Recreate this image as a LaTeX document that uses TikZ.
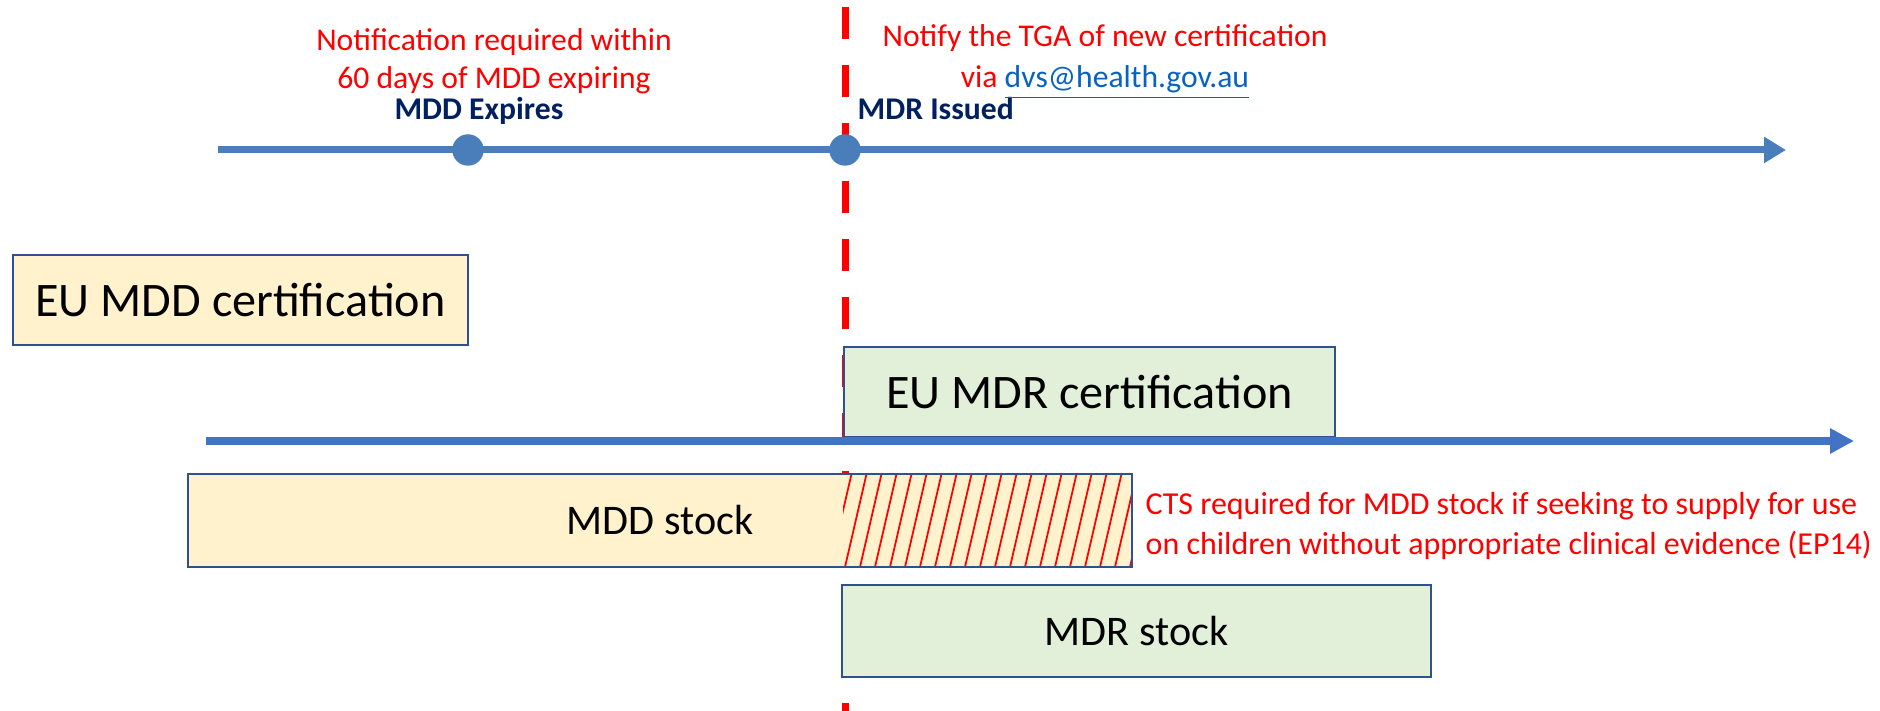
\documentclass[tikz,border=0pt]{standalone}
\usepackage{fontspec}
\setmainfont{Carlito}
\usepackage{tikz}
\usetikzlibrary{arrows.meta}
\usetikzlibrary{calc}

\definecolor{axisblue}{RGB}{74,126,187}
\definecolor{axisbluetwo}{RGB}{68,114,196}
\definecolor{boxedge}{RGB}{47,82,143}
\definecolor{mddfill}{RGB}{255,242,204}
\definecolor{mdrfill}{RGB}{226,240,217}
\definecolor{navy}{RGB}{0,32,96}
\definecolor{linkblue}{RGB}{5,99,193}

\begin{document}
\begin{tikzpicture}[
  certbox/.style={shape=rectangle,draw=boxedge,line width=0.75pt,inner sep=0pt,outer sep=0pt,font=\fontsize{13.7}{16}\selectfont},
  stockbox/.style={shape=rectangle,draw=boxedge,line width=0.75pt,inner sep=0pt,outer sep=0pt,font=\fontsize{12}{14}\selectfont},
  note/.style={text=red,inner sep=0pt,font=\fontsize{9}{10.8}\selectfont},
  event/.style={text=navy,inner sep=0pt,font=\fontsize{9}{10.8}\selectfont\bfseries},
  timeline/.style={line width=2pt,-{Triangle[length=2.2mm,width=2.5mm]}}
]
\useasboundingbox (0,0) rectangle (18.8,7.11);
\coordinate (cuttop) at (8.45,7.04);
\coordinate (cutbot) at (8.45,0);
\draw[red,line width=2pt,dash pattern=on 0.32cm off 0.26cm] (cuttop) -- (cutbot);
\coordinate (t0) at (2.18,5.61);
\coordinate (t1) at (17.86,5.61);
\draw[timeline,axisblue] (t0) -- (t1);
\filldraw[axisblue] (4.68,5.61) circle [radius=0.15cm] node (mdddot) {};
\filldraw[axisblue] (8.45,5.61) circle [radius=0.15cm] node (mdrdot) {};
\draw (4.79,5.91) node (mddexp) [event,anchor=base] {MDD Expires};
\draw (8.57,5.91) node (mdriss) [event,anchor=base west] {MDR Issued};
\draw (4.94,6.50) node (notif) [note,align=center] {Notification required within\\60 days of MDD expiring};
\draw (11.05,6.49) node (notify) [note,align=center,font=\fontsize{9}{11.6}\selectfont] {Notify the TGA of new certification\\via \textcolor{linkblue}{\underline{dvs@health.gov.au}}};
\draw (2.405,4.11) node (mddcert) [certbox,fill=mddfill,minimum width=4.55cm,minimum height=0.90cm] {EU MDD certification};
\draw (10.895,3.19) node (mdrcert) [certbox,fill=mdrfill,minimum width=4.91cm,minimum height=0.90cm] {EU MDR certification};
\coordinate (a0) at (2.06,2.70);
\coordinate (a1) at (18.54,2.70);
\draw[axisbluetwo,line width=2pt,-{Triangle[length=2.4mm,width=2.4mm]}] (a0) -- (a1);
\draw (6.60,1.905) node (mddstock) [stockbox,fill=mddfill,minimum width=9.44cm,minimum height=0.93cm] {MDD stock};
\begin{scope}
\clip (8.43,1.44) rectangle (mddstock.north east);
\foreach \i in {0,...,21}
  \draw[red,line width=0.5pt] (8.30+0.15*\i,1.44) -- ++(0.215,0.93);
\end{scope}
\draw[boxedge,line width=0.75pt] (mddstock.south west) rectangle (mddstock.north east);
\draw (11.365,0.80) node (mdrstock) [stockbox,fill=mdrfill,minimum width=5.89cm,minimum height=0.92cm] {MDR stock};
\draw (11.45,1.85) node (cts) [note,anchor=west,align=left,font=\fontsize{9.1}{11.4}\selectfont] {CTS required for MDD stock if seeking to supply for use\\on children without appropriate clinical evidence (EP14)};
\end{tikzpicture}
\end{document}
